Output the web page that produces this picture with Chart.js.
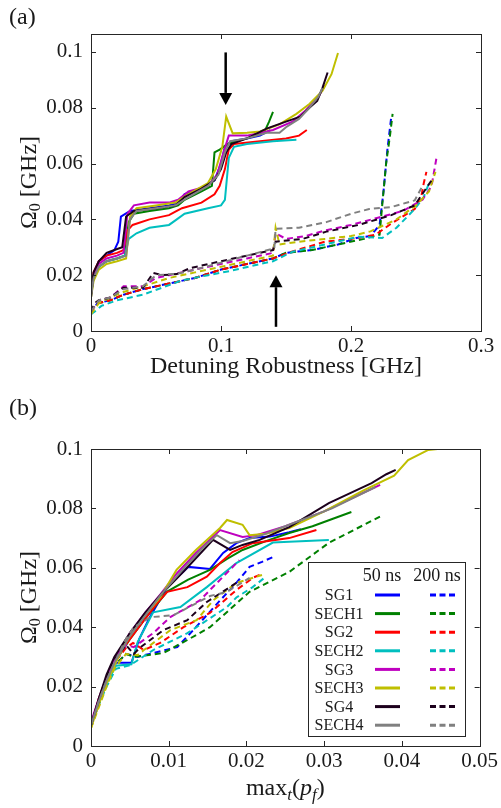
<!DOCTYPE html>
<html>
<head>
<meta charset="utf-8">
<script src="https://cdn.jsdelivr.net/npm/chart.js@4.4.1/dist/chart.umd.min.js"></script>
<style>
  html, body { margin: 0; padding: 0; background: #fff; }
  canvas { display: block; }
</style>
</head>
<body>
<canvas id="chartA" width="501" height="390"></canvas>
<canvas id="chartB" width="501" height="418"></canvas>
<script>
// Pulse families and line colours
const pulseNames = ['SG1', 'SECH1', 'SG2', 'SECH2', 'SG3', 'SECH3', 'SG4', 'SECH4'];
const pulseColors = ['#0000ff', '#008000', '#ff0000', '#00bfbf', '#bf00bf', '#bfbf00', '#1c001c', '#808080'];
const durationLabels = ['50 ns', '200 ns'];

// Axis ticks
const aXTicks = [0, 0.1, 0.2, 0.3];
const aYTicks = [0, 0.02, 0.04, 0.06, 0.08, 0.1];
const bXTicks = [0, 0.01, 0.02, 0.03, 0.04, 0.05];
const bYTicks = [0, 0.02, 0.04, 0.06, 0.08, 0.1];

// Arrows in panel (a): [x, yFrom, yTip]
const arrowDown = [0.1036, 0.0998, 0.081];
const arrowUp = [0.1423, 0.0015, 0.020];

// Panel (a): detuning robustness [GHz] vs Omega0 [GHz], 50 ns pulses
const aSG1_50 = [[0,0.013],[0.002,0.02],[0.006,0.025],[0.012,0.027],[0.018,0.029],[0.021,0.032],[0.023,0.041],[0.03,0.043],[0.045,0.044],[0.06,0.045],[0.067,0.046],[0.072,0.049],[0.085,0.051],[0.095,0.054],[0.1,0.06],[0.103,0.066],[0.108,0.068],[0.12,0.069],[0.13,0.07],[0.138,0.072]];
const aSECH1_50 = [[0,0.013],[0.002,0.019],[0.006,0.023],[0.012,0.025],[0.02,0.026],[0.026,0.027],[0.029,0.039],[0.033,0.042],[0.045,0.043],[0.06,0.044],[0.067,0.045],[0.072,0.047],[0.085,0.05],[0.093,0.052],[0.095,0.064],[0.099,0.065],[0.105,0.067],[0.12,0.069],[0.133,0.071],[0.137,0.075],[0.14,0.0785]];
const aSG2_50 = [[0,0.013],[0.002,0.021],[0.006,0.025],[0.012,0.027],[0.02,0.028],[0.025,0.029],[0.028,0.036],[0.032,0.038],[0.045,0.04],[0.06,0.0415],[0.066,0.043],[0.07,0.044],[0.085,0.046],[0.095,0.049],[0.099,0.052],[0.103,0.058],[0.106,0.065],[0.11,0.067],[0.13,0.068],[0.15,0.069],[0.16,0.07],[0.166,0.072]];
const aSECH2_50 = [[0,0.013],[0.002,0.019],[0.006,0.023],[0.012,0.025],[0.02,0.026],[0.026,0.027],[0.029,0.033],[0.035,0.035],[0.045,0.037],[0.06,0.038],[0.066,0.04],[0.072,0.042],[0.09,0.044],[0.1,0.045],[0.103,0.047],[0.106,0.062],[0.11,0.066],[0.12,0.067],[0.14,0.068],[0.158,0.0685]];
const aSG3_50 = [[0,0.013],[0.002,0.02],[0.006,0.024],[0.012,0.026],[0.02,0.027],[0.025,0.028],[0.028,0.042],[0.033,0.045],[0.045,0.046],[0.06,0.046],[0.067,0.047],[0.075,0.05],[0.09,0.052],[0.097,0.056],[0.102,0.064],[0.106,0.07],[0.12,0.07],[0.14,0.072],[0.155,0.075],[0.165,0.079],[0.175,0.084],[0.18,0.088]];
const aSECH3_50 = [[0,0.012],[0.002,0.018],[0.006,0.022],[0.012,0.024],[0.02,0.025],[0.027,0.026],[0.03,0.041],[0.035,0.044],[0.05,0.045],[0.065,0.046],[0.075,0.049],[0.09,0.053],[0.096,0.058],[0.101,0.066],[0.104,0.0768],[0.109,0.0708],[0.12,0.071],[0.13,0.0715],[0.145,0.074],[0.158,0.0778],[0.168,0.0813],[0.178,0.086],[0.185,0.092],[0.19,0.0996]];
const aSG4_50 = [[0,0.012],[0.002,0.021],[0.006,0.025],[0.012,0.028],[0.018,0.029],[0.024,0.03],[0.027,0.041],[0.033,0.043],[0.05,0.044],[0.065,0.045],[0.072,0.048],[0.085,0.051],[0.095,0.054],[0.1,0.058],[0.104,0.064],[0.108,0.067],[0.12,0.069],[0.135,0.0725],[0.15,0.075],[0.161,0.0768],[0.168,0.08],[0.174,0.0824],[0.178,0.087],[0.182,0.0926]];
const aSECH4_50 = [[0,0.012],[0.002,0.019],[0.006,0.023],[0.012,0.025],[0.02,0.026],[0.027,0.027],[0.03,0.04],[0.035,0.043],[0.05,0.044],[0.065,0.045],[0.075,0.048],[0.09,0.052],[0.098,0.056],[0.103,0.064],[0.107,0.068],[0.12,0.069],[0.135,0.071],[0.145,0.071],[0.15,0.073],[0.16,0.076],[0.168,0.08],[0.175,0.084],[0.178,0.087]];

// Panel (a): 200 ns pulses
const aSG1_200 = [[0,0.006],[0.002,0.008],[0.005,0.01],[0.015,0.011],[0.025,0.013],[0.04,0.015],[0.06,0.017],[0.08,0.019],[0.1,0.022],[0.12,0.024],[0.14,0.026],[0.15,0.028],[0.17,0.029],[0.19,0.031],[0.204,0.0333],[0.215,0.034],[0.222,0.038],[0.225,0.05],[0.228,0.065],[0.231,0.0768]];
const aSECH1_200 = [[0,0.007],[0.003,0.009],[0.006,0.01],[0.015,0.011],[0.025,0.013],[0.04,0.015],[0.06,0.017],[0.08,0.019],[0.1,0.022],[0.12,0.024],[0.14,0.026],[0.15,0.028],[0.17,0.029],[0.19,0.031],[0.21,0.033],[0.222,0.0345],[0.224,0.045],[0.227,0.06],[0.23,0.07],[0.232,0.0778]];
const aSG2_200 = [[0,0.007],[0.003,0.009],[0.006,0.01],[0.015,0.011],[0.025,0.013],[0.04,0.015],[0.06,0.017],[0.08,0.019],[0.1,0.022],[0.12,0.024],[0.14,0.026],[0.155,0.0285],[0.18,0.032],[0.2,0.033],[0.219,0.0345],[0.231,0.0385],[0.249,0.0437],[0.254,0.048],[0.256,0.053],[0.258,0.057]];
const aSECH2_200 = [[0,0.006],[0.003,0.007],[0.008,0.009],[0.02,0.011],[0.04,0.013],[0.069,0.018],[0.09,0.02],[0.107,0.0215],[0.13,0.024],[0.14,0.025],[0.155,0.0284],[0.18,0.031],[0.206,0.0338],[0.224,0.0333],[0.235,0.037],[0.249,0.0437],[0.256,0.048],[0.26,0.053]];
const aSG3_200 = [[0,0.007],[0.003,0.009],[0.006,0.011],[0.015,0.012],[0.025,0.016],[0.04,0.016],[0.05,0.019],[0.06,0.02],[0.08,0.022],[0.1,0.024],[0.12,0.026],[0.14,0.028],[0.142,0.035],[0.15,0.033],[0.165,0.034],[0.18,0.036],[0.2,0.038],[0.22,0.0405],[0.24,0.043],[0.255,0.047],[0.262,0.052],[0.266,0.0627]];
const aSECH3_200 = [[0,0.006],[0.003,0.008],[0.006,0.01],[0.015,0.012],[0.025,0.014],[0.04,0.016],[0.06,0.019],[0.08,0.021],[0.1,0.023],[0.12,0.025],[0.14,0.027],[0.142,0.037],[0.145,0.031],[0.16,0.032],[0.18,0.033],[0.2,0.034],[0.215,0.0357],[0.235,0.04],[0.25,0.045],[0.26,0.05],[0.265,0.057]];
const aSG4_200 = [[0,0.007],[0.003,0.01],[0.006,0.011],[0.015,0.012],[0.025,0.0155],[0.04,0.0155],[0.048,0.0208],[0.055,0.02],[0.066,0.0204],[0.076,0.0225],[0.1,0.025],[0.125,0.0275],[0.14,0.029],[0.142,0.032],[0.163,0.033],[0.181,0.0356],[0.206,0.038],[0.231,0.0415],[0.249,0.045],[0.262,0.054]];
const aSECH4_200 = [[0,0.007],[0.003,0.009],[0.006,0.011],[0.015,0.012],[0.025,0.015],[0.04,0.016],[0.05,0.02],[0.066,0.0205],[0.08,0.022],[0.1,0.0245],[0.12,0.027],[0.141,0.0296],[0.142,0.0366],[0.16,0.037],[0.181,0.039],[0.2,0.042],[0.214,0.0437],[0.231,0.0444],[0.249,0.0468],[0.255,0.052]];

// Panel (b): max_t(p_f) vs Omega0 [GHz], 50 ns pulses
const bSG1_50 = [[0,0.007],[0.001,0.015],[0.002,0.022],[0.0032,0.028],[0.0052,0.028],[0.0062,0.036],[0.0075,0.043],[0.0098,0.0535],[0.0125,0.0603],[0.0153,0.0596],[0.017,0.065],[0.0187,0.0683],[0.0204,0.07],[0.023,0.0705],[0.0255,0.072],[0.027,0.073]];
const bSECH1_50 = [[0,0.007],[0.001,0.015],[0.002,0.022],[0.003,0.028],[0.005,0.036],[0.007,0.043],[0.0098,0.052],[0.0125,0.056],[0.0153,0.0593],[0.0175,0.063],[0.0195,0.066],[0.0225,0.069],[0.0255,0.0717],[0.0285,0.074],[0.0306,0.076],[0.0335,0.0788]];
const bSG2_50 = [[0,0.007],[0.001,0.016],[0.002,0.023],[0.003,0.029],[0.005,0.036],[0.007,0.043],[0.0085,0.048],[0.0098,0.0519],[0.0124,0.0535],[0.0149,0.057],[0.0166,0.0616],[0.0182,0.0653],[0.0208,0.0683],[0.0255,0.07],[0.029,0.0727]];
const bSECH2_50 = [[0,0.007],[0.001,0.015],[0.002,0.021],[0.0032,0.027],[0.0052,0.0275],[0.006,0.035],[0.008,0.045],[0.0115,0.0468],[0.0149,0.0535],[0.0187,0.0616],[0.0234,0.0685],[0.0255,0.0688],[0.0306,0.0694]];
const bSG3_50 = [[0,0.008],[0.001,0.016],[0.002,0.023],[0.003,0.029],[0.005,0.038],[0.007,0.045],[0.0089,0.051],[0.011,0.058],[0.0135,0.065],[0.0166,0.0727],[0.0195,0.0704],[0.0213,0.071],[0.025,0.074],[0.03,0.079],[0.034,0.084],[0.0372,0.0879]];
const bSECH3_50 = [[0,0.006],[0.001,0.014],[0.002,0.021],[0.003,0.027],[0.0045,0.035],[0.0064,0.0424],[0.0089,0.05],[0.011,0.0593],[0.0135,0.066],[0.0166,0.0734],[0.0175,0.0761],[0.0195,0.0745],[0.0204,0.071],[0.0225,0.0715],[0.0255,0.0734],[0.03,0.079],[0.035,0.086],[0.039,0.091],[0.0408,0.0963],[0.0434,0.0997],[0.0446,0.1]];
const bSG4_50 = [[0,0.007],[0.001,0.016],[0.002,0.024],[0.003,0.03],[0.005,0.038],[0.007,0.045],[0.009,0.051],[0.012,0.059],[0.0157,0.0694],[0.0179,0.066],[0.0195,0.0677],[0.0217,0.0694],[0.0255,0.0737],[0.0306,0.0818],[0.0361,0.0885],[0.038,0.0915],[0.0392,0.093]];
const bSECH4_50 = [[0,0.007],[0.001,0.015],[0.002,0.022],[0.003,0.028],[0.005,0.037],[0.007,0.044],[0.009,0.051],[0.012,0.06],[0.0145,0.067],[0.0162,0.071],[0.0179,0.0683],[0.0195,0.069],[0.022,0.071],[0.026,0.075],[0.031,0.08],[0.0366,0.0872]];

// Panel (b): 200 ns pulses
const bSG1_200 = [[0,0.007],[0.001,0.014],[0.002,0.021],[0.003,0.027],[0.0045,0.031],[0.006,0.03],[0.008,0.0313],[0.0111,0.0333],[0.0135,0.04],[0.0166,0.049],[0.0187,0.0549],[0.0204,0.0603],[0.022,0.062],[0.0234,0.0636]];
const bSECH1_200 = [[0,0.007],[0.001,0.014],[0.002,0.021],[0.003,0.027],[0.0045,0.031],[0.0055,0.03],[0.0093,0.0313],[0.0124,0.0357],[0.0153,0.04],[0.0204,0.0519],[0.0255,0.0586],[0.0306,0.0684],[0.0376,0.0778]];
const bSG2_200 = [[0,0.007],[0.001,0.015],[0.002,0.022],[0.003,0.028],[0.0045,0.033],[0.0054,0.0347],[0.0068,0.0323],[0.0089,0.0347],[0.0119,0.04],[0.0153,0.0448],[0.0187,0.0525],[0.0208,0.0566],[0.022,0.058]];
const bSECH2_200 = [[0,0.007],[0.001,0.014],[0.002,0.02],[0.0032,0.026],[0.0051,0.0273],[0.008,0.0323],[0.0124,0.038],[0.0175,0.0468],[0.0187,0.05],[0.0208,0.0535],[0.0225,0.057]];
const bSG3_200 = [[0,0.008],[0.001,0.015],[0.002,0.022],[0.003,0.028],[0.0045,0.034],[0.0055,0.0333],[0.008,0.038],[0.0102,0.0434],[0.014,0.049],[0.0153,0.0525],[0.0191,0.0626]];
const bSECH3_200 = [[0,0.006],[0.001,0.013],[0.002,0.02],[0.003,0.026],[0.0045,0.031],[0.006,0.0306],[0.0068,0.0323],[0.0102,0.039],[0.0136,0.0424],[0.0157,0.049],[0.0187,0.0549],[0.022,0.0576]];
const bSG4_200 = [[0,0.007],[0.001,0.015],[0.002,0.023],[0.003,0.029],[0.0045,0.034],[0.0055,0.031],[0.0064,0.0333],[0.0093,0.039],[0.0124,0.0424],[0.0149,0.0485],[0.0187,0.0549]];
const bSECH4_200 = [[0,0.007],[0.001,0.015],[0.002,0.022],[0.003,0.028],[0.0045,0.036],[0.0055,0.04],[0.0077,0.0434],[0.0106,0.044],[0.0153,0.0505],[0.0175,0.0519],[0.0204,0.0566]];

const panelA50 = [aSG1_50, aSECH1_50, aSG2_50, aSECH2_50, aSG3_50, aSECH3_50, aSG4_50, aSECH4_50];
const panelA200 = [aSG1_200, aSECH1_200, aSG2_200, aSECH2_200, aSG3_200, aSECH3_200, aSG4_200, aSECH4_200];
const panelB50 = [bSG1_50, bSECH1_50, bSG2_50, bSECH2_50, bSG3_50, bSECH3_50, bSG4_50, bSECH4_50];
const panelB200 = [bSG1_200, bSECH1_200, bSG2_200, bSECH2_200, bSG3_200, bSECH3_200, bSG4_200, bSECH4_200];

const serif = '"Liberation Serif", "Times New Roman", serif';
const axisColor = '#262626';
const textColor = '#1a1a1a';

function toXY(pairs) {
    return pairs.map(p => ({ x: p[0], y: p[1] }));
}

function buildDatasets(list50, list200) {
    const sets = [];
    pulseNames.forEach((name, i) => {
        sets.push({ label: name + ' ' + durationLabels[0], data: toXY(list50[i]), borderColor: pulseColors[i], borderDash: [] });
        sets.push({ label: name + ' ' + durationLabels[1], data: toXY(list200[i]), borderColor: pulseColors[i], borderDash: [6, 4] });
    });
    // later series drawn on top
    sets.forEach((s, i) => {
        s.order = sets.length - i;
        s.borderWidth = 2;
        s.pointRadius = 0;
        s.fill = false;
        s.tension = 0;
    });
    return sets;
}

function tickLabel(v) {
    return v === 0 ? '0' : String(v);
}

// Draw text pieces in a row; each piece {t, size, dy, italic}
function drawPieces(ctx, pieces, x, y) {
    let total = 0;
    pieces.forEach(p => {
        ctx.font = (p.italic ? 'italic ' : '') + p.size + 'px ' + serif;
        p.w = ctx.measureText(p.t).width;
        total += p.w;
    });
    let cx = x - total / 2;
    pieces.forEach(p => {
        ctx.font = (p.italic ? 'italic ' : '') + p.size + 'px ' + serif;
        ctx.fillText(p.t, cx, y + (p.dy || 0));
        cx += p.w;
    });
}

function drawArrow(ctx, xs, ys, spec) {
    const px = xs.getPixelForValue(spec[0]);
    const y0 = ys.getPixelForValue(spec[1]);
    const y1 = ys.getPixelForValue(spec[2]);
    const dir = y1 > y0 ? 1 : -1;
    const headLen = 12, halfW = 6.5;
    ctx.strokeStyle = '#000';
    ctx.fillStyle = '#000';
    ctx.lineWidth = 2.5;
    ctx.setLineDash([]);
    ctx.beginPath();
    ctx.moveTo(px, y0);
    ctx.lineTo(px, y1 - dir * headLen);
    ctx.stroke();
    ctx.beginPath();
    ctx.moveTo(px, y1);
    ctx.lineTo(px - halfW, y1 - dir * headLen);
    ctx.lineTo(px + halfW, y1 - dir * headLen);
    ctx.closePath();
    ctx.fill();
}

function drawLegend(ctx, area) {
    const bx = Math.round(area.right - 172), by = Math.round(area.bottom - 184);
    const bw = 157, bh = 174;
    ctx.save();
    ctx.fillStyle = '#fff';
    ctx.fillRect(bx, by, bw, bh);
    ctx.strokeStyle = axisColor;
    ctx.lineWidth = 1;
    ctx.setLineDash([]);
    ctx.strokeRect(bx + 0.5, by + 0.5, bw, bh);
    ctx.fillStyle = textColor;
    ctx.textAlign = 'center';
    ctx.textBaseline = 'middle';
    ctx.font = '18px ' + serif;
    ctx.fillText(durationLabels[0], bx + 74, by + 14);
    ctx.fillText(durationLabels[1], bx + 129, by + 14);
    ctx.font = '16px ' + serif;
    pulseNames.forEach((name, i) => {
        const y = by + 33 + i * 18.6;
        ctx.fillStyle = textColor;
        ctx.fillText(name, bx + 31, y + 1);
        ctx.strokeStyle = pulseColors[i];
        ctx.lineWidth = 3;
        ctx.setLineDash([]);
        ctx.beginPath();
        ctx.moveTo(bx + 67, y);
        ctx.lineTo(bx + 92, y);
        ctx.stroke();
        ctx.setLineDash([6, 3.5]);
        ctx.beginPath();
        ctx.moveTo(bx + 122, y);
        ctx.lineTo(bx + 147, y);
        ctx.stroke();
    });
    ctx.restore();
}

function framePlugin(cfg) {
    return {
        id: 'frame' + cfg.letter,
        afterDatasetsDraw(chart) {
            const ctx = chart.ctx, a = chart.chartArea;
            const xs = chart.scales.x, ys = chart.scales.y;
            ctx.save();
            // box
            ctx.strokeStyle = axisColor;
            ctx.lineWidth = 1;
            ctx.setLineDash([]);
            ctx.strokeRect(Math.round(a.left) + 0.5, Math.round(a.top) + 0.5,
                Math.round(a.right - a.left), Math.round(a.bottom - a.top));
            // inward ticks
            ctx.beginPath();
            cfg.xTicks.forEach(v => {
                const px = Math.round(xs.getPixelForValue(v)) + 0.5;
                ctx.moveTo(px, a.bottom); ctx.lineTo(px, a.bottom - 5);
                ctx.moveTo(px, a.top); ctx.lineTo(px, a.top + 5);
            });
            cfg.yTicks.forEach(v => {
                const py = Math.round(ys.getPixelForValue(v)) + 0.5;
                ctx.moveTo(a.left, py); ctx.lineTo(a.left + 5, py);
                ctx.moveTo(a.right, py); ctx.lineTo(a.right - 5, py);
            });
            ctx.stroke();
            if (cfg.arrows) {
                cfg.arrows.forEach(spec => drawArrow(ctx, xs, ys, spec));
            }
            if (cfg.legend) {
                drawLegend(ctx, a);
            }
            ctx.restore();
        },
        afterDraw(chart) {
            const ctx = chart.ctx, a = chart.chartArea;
            ctx.save();
            ctx.fillStyle = textColor;
            ctx.textAlign = 'left';
            ctx.textBaseline = 'alphabetic';
            // panel letter
            ctx.font = '24px ' + serif;
            ctx.fillText('(' + cfg.letter + ')', 9, cfg.letterY);
            // y title, rotated
            ctx.save();
            ctx.translate(28, (a.top + a.bottom) / 2);
            ctx.rotate(-Math.PI / 2);
            drawPieces(ctx, [
                { t: '\u03A9', size: 24 },
                { t: '0', size: 16, dy: 4 },
                { t: ' [GHz]', size: 24 }
            ], 0, 8);
            ctx.restore();
            // x title
            drawPieces(ctx, cfg.xTitle, (a.left + a.right) / 2, cfg.xTitleY);
            ctx.restore();
        }
    };
}

function makeChart(canvasId, list50, list200, cfg) {
    const ctx = document.getElementById(canvasId);
    return new Chart(ctx, {
        type: 'line',
        data: { datasets: buildDatasets(list50, list200) },
        options: {
            responsive: false,
            animation: false,
            devicePixelRatio: 1,
            layout: { padding: { left: 0, right: cfg.padRight, top: cfg.padTop, bottom: 0 } },
            plugins: { legend: { display: false }, tooltip: { enabled: false } },
            scales: {
                x: {
                    type: 'linear',
                    min: cfg.xMax ? 0 : 0,
                    max: cfg.xMax,
                    grid: { display: false, drawTicks: false },
                    border: { display: false },
                    ticks: { font: { family: serif, size: 21 }, color: textColor, padding: 3, maxRotation: 0, autoSkip: false, callback: tickLabel },
                    afterBuildTicks: s => { s.ticks = cfg.xTicks.map(v => ({ value: v })); },
                    afterFit: s => { s.height = cfg.xAxisHeight; }
                },
                y: {
                    type: 'linear',
                    min: 0,
                    max: cfg.yMax,
                    grid: { display: false, drawTicks: false },
                    border: { display: false },
                    ticks: { font: { family: serif, size: 21 }, color: textColor, padding: 8, autoSkip: false, callback: tickLabel },
                    afterBuildTicks: s => { s.ticks = cfg.yTicks.map(v => ({ value: v })); },
                    afterFit: s => { s.width = 91; }
                }
            }
        },
        plugins: [framePlugin(cfg)]
    });
}

makeChart('chartA', panelA50, panelA200, {
    letter: 'a', letterY: 24,
    xMax: 0.3, yMax: 0.1064,
    xTicks: aXTicks, yTicks: aYTicks,
    padRight: 20, padTop: 34, xAxisHeight: 59,
    xTitle: [{ t: 'Detuning Robustness [GHz]', size: 24 }],
    xTitleY: 373,
    arrows: [arrowDown, arrowUp]
});

makeChart('chartB', panelB50, panelB200, {
    letter: 'b', letterY: 25,
    xMax: 0.05, yMax: 0.1,
    xTicks: bXTicks, yTicks: bYTicks,
    padRight: 19, padTop: 59, xAxisHeight: 62,
    xTitle: [
        { t: 'max', size: 24 },
        { t: 't', size: 17, dy: 5, italic: true },
        { t: '(', size: 24 },
        { t: 'p', size: 24, italic: true },
        { t: 'f', size: 17, dy: 5, italic: true },
        { t: ')', size: 24 }
    ],
    xTitleY: 405,
    legend: true
});
</script>
</body>
</html>
